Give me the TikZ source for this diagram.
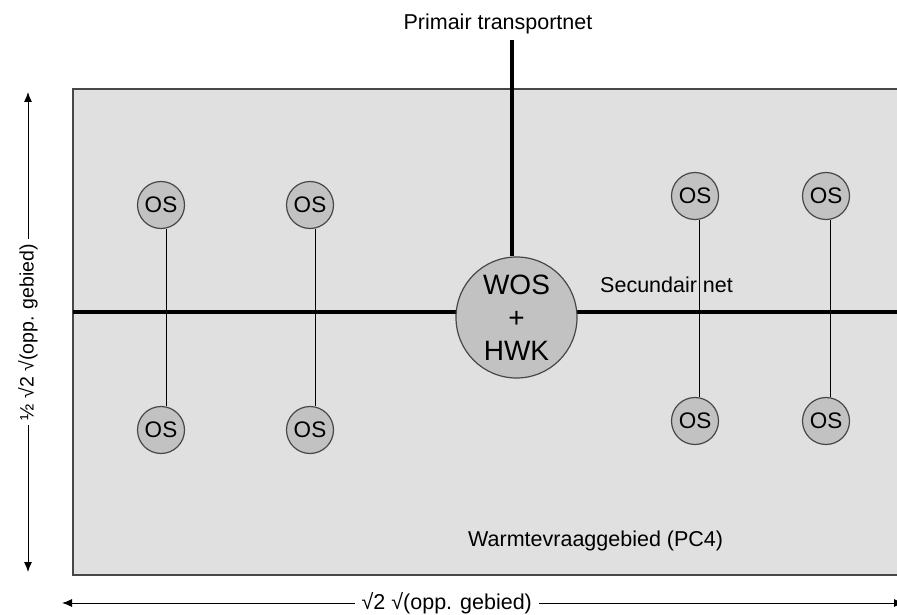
\documentclass[tikz,border=0pt]{standalone}
\usepackage{fontspec}
\setmainfont{Liberation Sans}
\usetikzlibrary{arrows.meta}
\definecolor{gebied}{gray}{0.88}
\definecolor{station}{gray}{0.76}
\definecolor{rand}{gray}{0.28}
\begin{document}
\begin{tikzpicture}[x=1pt,y=-1pt,
		os/.style={circle,draw=rand,fill=station,line width=1.2pt,inner sep=0pt,minimum size=47pt,font=\fontsize{22.5}{24}\selectfont},
		wos/.style={circle,draw=rand,fill=station,line width=1.2pt,inner sep=0pt,minimum size=121pt,align=center,font=\fontsize{28}{33}\selectfont},
		tekst/.style={font=\fontsize{21.5}{24}\selectfont},
		net/.style={line width=4pt},
		leiding/.style={line width=1pt},
		maat/.style={line width=1pt,{Latex[length=10pt,width=8pt]}-{Latex[length=10pt,width=8pt]}}]
	\useasboundingbox (0,0) rectangle (897,615);
	\clip (0,0) rectangle (897,615);
	% gebied
	\filldraw[fill=gebied,draw=rand,line width=1.5pt] (73,89) rectangle (912,575);
	\coordinate (westrand) at (73,312);
	\coordinate (oostrand) at (912,312);
	\coordinate (primair) at (512,40);
	\draw[net] (westrand) -- (oostrand);
	\node[wos] (wos) at (516.5,317.5) {WOS\\+\\HWK};
	\draw[net] (primair) -- (primair |- wos.north);
	% onderstations
	\node[os] (os1) at (161,205) {OS};
	\node[os] (os2) at (310,205) {OS};
	\node[os] (os3) at (695,196) {OS};
	\node[os] (os4) at (826,196) {OS};
	\node[os] (os5) at (161,430) {OS};
	\node[os] (os6) at (310,430) {OS};
	\node[os] (os7) at (695,421) {OS};
	\node[os] (os8) at (826,421) {OS};
	\draw[leiding] ([xshift=5pt]os1.south) -- ([xshift=5pt]os5.north);
	\draw[leiding] ([xshift=5pt]os2.south) -- ([xshift=5pt]os6.north);
	\draw[leiding] ([xshift=4.5pt]os3.south) -- ([xshift=4.5pt]os7.north);
	\draw[leiding] ([xshift=4.5pt]os4.south) -- ([xshift=4.5pt]os8.north);
	% teksten
	\node[tekst,anchor=base] (primairtxt) at (498,30) {Primair transportnet};
	\node[tekst,anchor=base west,inner sep=0pt] (secundair) at (600,292) {Secundair net};
	\node[tekst,anchor=base west,inner sep=0pt] (vraag) at (468,546) {Warmtevraaggebied (PC4)};
	% maten
	\coordinate (boven) at (28,92);
	\coordinate (onder) at (28,572);
	\coordinate (links) at (62,603);
	\coordinate (rechts) at (904,603);
	\draw[maat] (boven) -- (onder) node[midway,fill=white,rotate=90,inner sep=5pt,font=\fontsize{19.5}{22}\selectfont] (hoogte) {½ √2 √(opp. gebied)};
	\draw[maat] (links) -- (rechts) node[tekst,pos=0.457,fill=white,inner sep=7pt] (breedte) {√2 √(opp. gebied)};
\end{tikzpicture}
\end{document}
